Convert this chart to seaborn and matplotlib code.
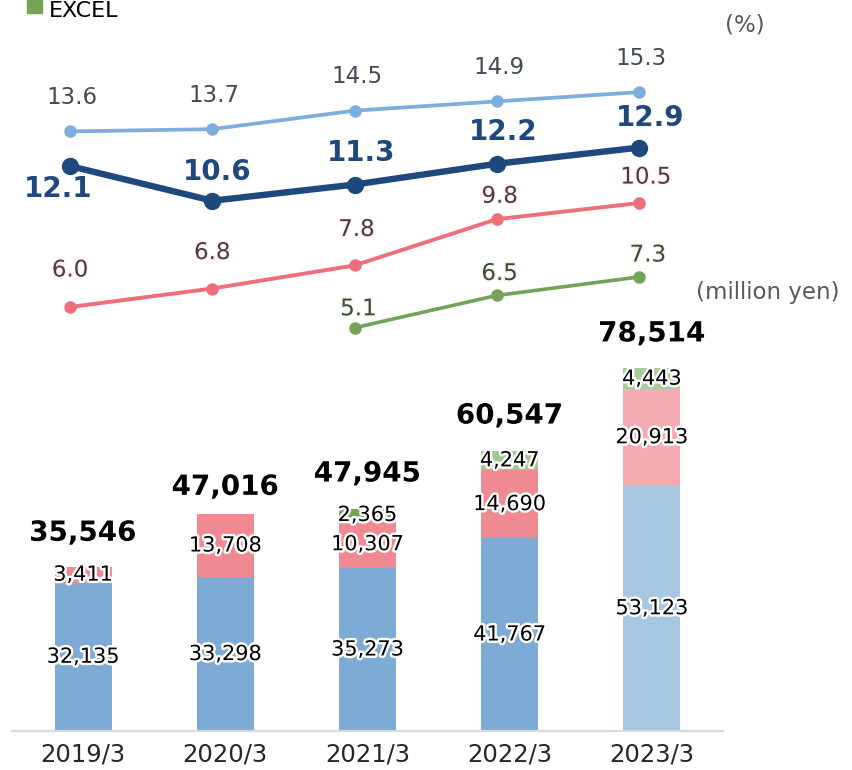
import seaborn as sns
import pandas as pd
import matplotlib.pyplot as plt
import matplotlib.patheffects as pe

# bar data (million yen)
years = ["2019/3", "2020/3", "2021/3", "2022/3", "2023/3"]
seg_blue = [32135, 33298, 35273, 41767, 53123]
seg_red = [3411, 13708, 10307, 14690, 20913]
seg_green = [0, 0, 2365, 4247, 4443]
totals = ["35,546", "47,016", "47,945", "60,547", "78,514"]

# line data (%)
pct_light = [13.6, 13.7, 14.5, 14.9, 15.3]
pct_dark = [12.1, 10.6, 11.3, 12.2, 12.9]
pct_red = [6.0, 6.8, 7.8, 9.8, 10.5]
pct_green = [None, None, 5.1, 6.5, 7.3]

blue_cols = ["#7eabd6", "#7eabd6", "#7eabd6", "#7eabd6", "#a6c6e2"]
red_cols = ["#f08a92", "#f08a92", "#f08a92", "#f08a92", "#f5abb2"]
green_cols = ["#72a557", "#72a557", "#72a557", "#a3c891", "#a9cc9b"]

W, H = 852, 770
sns.set_theme(style="white")
plt.rcParams['font.family'] = ['DejaVu Sans']

fig = plt.figure(figsize=(W / 100, H / 100), dpi=100)
left, right, base, top = 12, 723, 731, 5
ax = fig.add_axes([left / W, (H - base) / H, (right - left) / W, (base - top) / H])

px_per_unit = 0.00462
df = pd.DataFrame({"year": years, "blue": seg_blue, "red": seg_red, "green": seg_green})
df["c2"] = df["blue"] + df["red"]
df["c3"] = df["c2"] + df["green"]

# overlay cumulative bars, tallest first
for col, cols in [("c3", green_cols), ("c2", red_cols), ("blue", blue_cols)]:
    sns.barplot(data=df, x="year", y=col, hue="year", palette=cols, width=0.4,
                saturation=1, legend=False, ax=ax, linewidth=0)

ax.set_xlim(-0.5, 4.5)
ax.set_ylim(0, (base - top) / px_per_unit)
ax.set_xlabel("")
ax.set_ylabel("")
ax.set_yticks([])
for s in ["left", "right", "top"]:
    ax.spines[s].set_visible(False)
ax.spines["bottom"].set_color("#d9d9d9")
ax.spines["bottom"].set_linewidth(1.6)
ax.tick_params(axis="x", length=0, pad=8, labelsize=17.5, labelcolor="#262626")

halo = [pe.withStroke(linewidth=3.5, foreground="white")]
for i in range(len(years)):
    b, r, g = seg_blue[i], seg_red[i], seg_green[i]
    for bottom, h in [(0, b), (b, r), (b + r, g)]:
        if h > 0:
            ax.text(i, bottom + h / 2, f"{h:,}", ha="center", va="center",
                    fontsize=15, color="black", path_effects=halo)
total_dy = [34, 27, 36, 35, 35]
for i in range(len(years)):
    ax.annotate(totals[i], (i, df["c3"][i]), xytext=(0, total_dy[i]),
                textcoords="offset pixels", ha="center", va="center",
                fontsize=20, fontweight="bold", color="black", path_effects=halo)

# line chart on its own axes, shifted a bit left
shift = 13
zero_y = 445.6
px_per_pct = 23.1
ax2 = fig.add_axes([(left - shift) / W, (H - base) / H, (right - left) / W, (base - top) / H])
ax2.patch.set_alpha(0)
ax2.axis("off")
ax2.set_xlim(-0.5, 4.5)
ax2.set_ylim(-(base - zero_y) / px_per_pct, (zero_y - top) / px_per_pct)

xs = list(range(len(years)))
lines = [
    (pct_light, "#7eaedb", 2.7, 9, 16.5, "normal", "#434a54",
     [(2, 34)] * 5, None),
    (pct_dark, "#1f497d", 4.6, 12.5, 20, "bold", "#1f497d",
     [(-12, -23), (5, 29), (7, 32), (6, 32), (11, 30)], None),
    (pct_red, "#ee6e79", 2.8, 9, 16.5, "normal", "#4d3b3d",
     [(0, 37), (0, 36), (2, 36), (3, 23), (7, 26)], "#fdeef0"),
    (pct_green, "#72a356", 2.6, 9, 16.5, "normal", "#3d4a36",
     [None, None, (4, 19), (3, 22), (9, 22)], "#eef5ea"),
]
for vals, col, lw, ms, fs, fw, tcol, offs, glow in lines:
    d = pd.DataFrame({"x": xs, "y": vals}).dropna()
    sns.lineplot(data=d, x="x", y="y", color=col, linewidth=lw, marker="o",
                 markersize=ms, markeredgewidth=0, ax=ax2)
    for i, v in enumerate(vals):
        if v is None:
            continue
        effects = [pe.withStroke(linewidth=2, foreground=glow)] if glow else None
        ax2.annotate(f"{v:.1f}", (i, v), xytext=offs[i], textcoords="offset pixels",
                     ha="center", va="center", fontsize=fs, fontweight=fw,
                     color=tcol, path_effects=effects)
ax2.set_xlim(-0.5, 4.5)
ax2.axis("off")

# unit labels and legend entry (clipped at the top in the source)
fig.text(745 / W, 1 - 25 / H, "(%)", ha="center", va="center", fontsize=16.5, color="#595959")
fig.text(768 / W, 1 - 293 / H, "(million yen)", ha="center", va="center", fontsize=16.5, color="#595959")
fig.patches.append(plt.Rectangle((27 / W, 1 - 13 / H), 15 / W, 17 / H, color="#72a557",
                                 transform=fig.transFigure, figure=fig))
fig.text(49 / W, 1 - 17 / H, "EXCEL", ha="left", va="baseline", fontsize=16, color="black")

fig.savefig("out.png", dpi=100)
